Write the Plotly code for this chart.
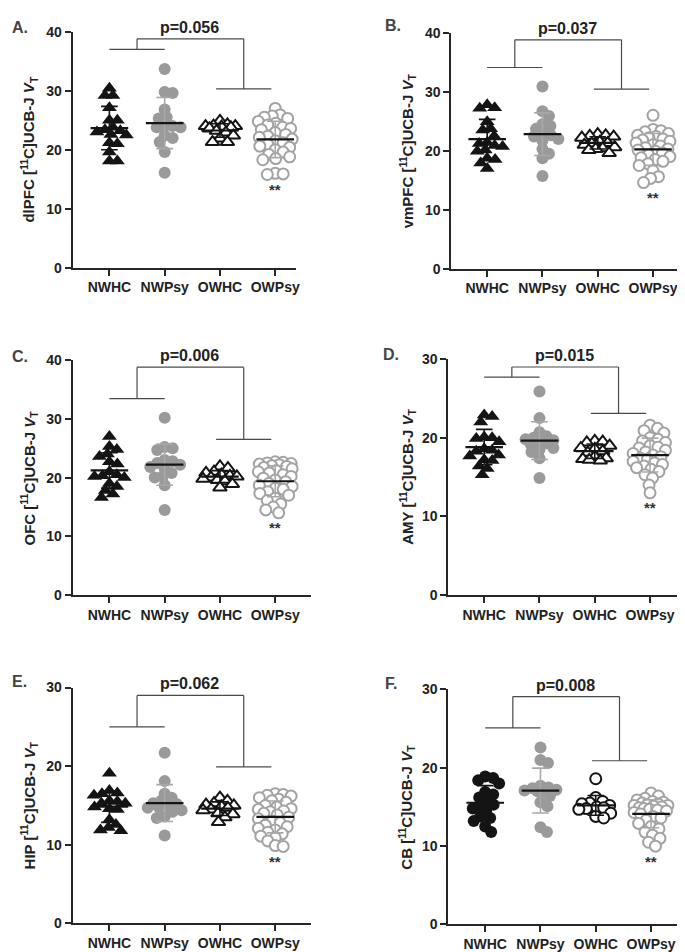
import numpy as np
import plotly.graph_objects as go

W, H = 685, 952
groups = ["NWHC", "NWPsy", "OWHC", "OWPsy"]

# ---------------- data (V_T values) ----------------
dlPFC_NWHC = [30.4, 29.2, 29.2, 27.1, 25.0, 25.0, 23.8, 23.4, 23.2, 23.0, 22.6, 22.5, 21.2, 21.0, 19.6, 18.1, 18.1]
dlPFC_NWPsy = [33.7, 29.8, 29.6, 26.8, 25.5, 25.3, 24.1, 24.0, 23.8, 23.8, 22.4, 22.0, 21.3, 19.6, 16.1]
dlPFC_OWHC = [24.9, 24.3, 24.1, 24.0, 24.0, 23.9, 23.8, 23.6, 23.2, 22.9, 22.4, 21.9, 21.3, 21.3]
dlPFC_OWPsy = [27.0, 25.9, 25.7, 25.5, 25.3, 24.8, 24.5, 24.2, 23.8, 23.6, 23.4, 22.9, 22.6, 22.3, 22.1,
               21.8, 21.5, 21.2, 20.9, 20.6, 20.4, 20.0, 19.6, 19.2, 18.8, 18.5, 18.3, 16.0, 15.9, 15.8]

vmPFC_NWHC = [27.8, 27.3, 27.2, 24.9, 23.7, 23.5, 22.5, 21.4, 21.2, 20.9, 20.7, 20.1, 19.9, 18.7, 18.5, 17.9, 17.0]
vmPFC_NWPsy = [30.9, 26.7, 25.9, 24.5, 24.2, 23.7, 23.1, 22.6, 22.4, 22.0, 21.7, 20.3, 19.5, 18.7, 15.7]
vmPFC_OWHC = [22.8, 22.6, 22.5, 22.4, 22.2, 21.5, 21.3, 21.2, 21.0, 20.6, 20.4, 20.3, 20.1, 19.6]
vmPFC_OWPsy = [26.0, 23.6, 23.4, 23.2, 22.9, 22.6, 22.4, 22.2, 22.0, 21.8, 21.6, 21.3, 21.0, 20.8, 20.5,
               20.3, 20.1, 19.9, 19.6, 19.3, 19.0, 18.8, 18.5, 18.2, 17.8, 17.5, 16.6, 15.6, 15.3, 14.6]

OFC_NWHC = [27.0, 25.3, 24.8, 24.0, 23.6, 22.7, 22.3, 21.0, 20.5, 20.3, 20.2, 20.0, 19.0, 18.5, 17.8, 17.2, 16.6]
OFC_NWPsy = [30.2, 25.2, 25.0, 24.7, 23.0, 22.8, 22.5, 22.2, 21.8, 21.5, 20.8, 20.2, 20.0, 18.7, 14.5]
OFC_OWHC = [21.9, 21.6, 21.0, 20.8, 20.5, 20.3, 20.2, 20.0, 19.8, 19.6, 19.4, 18.9, 18.3]
OFC_OWPsy = [22.7, 22.6, 22.5, 22.4, 22.3, 22.2, 22.0, 21.9, 21.7, 21.5, 21.2, 21.0, 20.8, 20.5, 20.2, 19.9,
             19.6, 19.3, 19.0, 18.7, 18.5, 18.2, 18.0, 17.6, 17.3, 17.0, 16.5, 16.1, 15.5, 15.0, 14.5, 14.0]

AMY_NWHC = [22.9, 22.7, 22.0, 20.1, 20.0, 19.9, 19.5, 18.6, 18.4, 18.3, 17.8, 17.7, 17.2, 17.1, 16.4, 16.1, 15.3]
AMY_NWPsy = [25.9, 22.5, 20.7, 20.2, 20.0, 19.8, 19.7, 19.6, 19.3, 19.2, 18.7, 18.5, 18.2, 17.4, 14.9]
AMY_OWHC = [19.6, 19.5, 19.4, 19.0, 18.7, 18.6, 18.3, 18.1, 17.6, 17.4, 17.3, 17.2, 17.1]
AMY_OWPsy = [21.6, 21.2, 20.9, 20.6, 20.0, 19.8, 19.6, 19.4, 19.0, 18.8, 18.7, 18.4, 18.2, 18.0, 17.8,
             17.6, 17.4, 17.3, 17.0, 16.8, 16.6, 16.4, 16.2, 16.0, 15.7, 15.3, 14.9, 14.0, 13.0]

HIP_NWHC = [19.1, 16.9, 16.6, 16.5, 16.3, 15.6, 15.5, 15.3, 15.3, 14.8, 14.6, 14.5, 13.2, 12.6, 12.2, 11.9, 11.8]
HIP_NWPsy = [21.7, 18.1, 16.5, 16.0, 15.6, 15.3, 15.2, 15.0, 14.8, 14.7, 14.4, 14.2, 13.6, 13.4, 11.2]
HIP_OWHC = [16.0, 15.6, 15.3, 15.1, 15.0, 14.9, 14.7, 14.5, 14.4, 14.0, 13.9, 13.5, 12.9]
HIP_OWPsy = [16.5, 16.4, 16.3, 16.2, 16.0, 15.8, 15.6, 15.4, 15.0, 14.8, 14.6, 14.5, 14.3, 14.2, 14.0, 13.8,
             13.5, 13.3, 13.0, 12.8, 12.5, 12.3, 12.1, 11.9, 11.6, 11.4, 11.1, 10.9, 10.5, 9.9, 9.8]

CB_NWHC = [18.9, 18.7, 18.4, 18.0, 16.9, 16.6, 16.2, 15.8, 15.3, 15.2, 14.8, 14.5, 13.8, 13.6, 13.2, 12.5, 11.8]
CB_NWPsy = [22.6, 21.0, 20.6, 17.7, 17.5, 17.4, 17.2, 17.1, 17.0, 17.0, 16.4, 15.6, 15.1, 12.4, 11.8]
CB_OWHC = [18.6, 16.2, 15.7, 15.5, 15.4, 15.2, 15.0, 14.9, 14.8, 14.7, 14.2, 13.8, 13.6]
CB_OWPsy = [16.8, 16.4, 16.1, 15.9, 15.7, 15.6, 15.5, 15.4, 15.3, 15.2, 15.2, 15.1, 15.0, 14.9, 14.8, 14.7,
            14.6, 14.5, 14.3, 14.1, 13.8, 13.6, 13.3, 12.9, 12.5, 12.2, 11.8, 11.4, 11.0, 10.5, 10.0]

p_values = ["p=0.056", "p=0.037", "p=0.006", "p=0.015", "p=0.062", "p=0.008"]
panel_letters = ["A.", "B.", "C.", "D.", "E.", "F."]
regions = ["dlPFC", "vmPFC", "OFC", "AMY", "HIP", "CB"]
# bracket heights (left pair, right pair, connector) in V_T units
bracket_left = [37.0, 34.1, 33.45, 27.7, 25.0, 25.1]
bracket_right = [30.3, 30.45, 26.5, 23.1, 19.9, 20.9]
bracket_top = [38.8, 38.8, 38.8, 29.0, 29.0, 29.1]
y_max = [40, 40, 40, 30, 30, 30]

panel_data = [
    [dlPFC_NWHC, dlPFC_NWPsy, dlPFC_OWHC, dlPFC_OWPsy],
    [vmPFC_NWHC, vmPFC_NWPsy, vmPFC_OWHC, vmPFC_OWPsy],
    [OFC_NWHC, OFC_NWPsy, OFC_OWHC, OFC_OWPsy],
    [AMY_NWHC, AMY_NWPsy, AMY_OWHC, AMY_OWPsy],
    [HIP_NWHC, HIP_NWPsy, HIP_OWHC, HIP_OWPsy],
    [CB_NWHC, CB_NWPsy, CB_OWHC, CB_OWPsy],
]

# ---------------- layout geometry (pixels) ----------------
# plot box: x0, x1, y_top, y_bottom, category-0 pixel
boxes = [
    (65, 290, 16, 256, 102),
    (446, 685, 17, 257, 482),
    (65, 305, 350, 589, 102),
    (443, 685, 349, 589, 479),
    (65, 305, 683, 923, 102),
    (443, 685, 685, 924, 480),
]
PX_CAT = 55.6
ytitle_x = [21, 402, 21, 401, 21, 401]
letter_pos = [(2, 12), (377, 10), (2, 346), (375, 344), (2, 677), (377, 679)]

BLACK = "#141414"
GRAY = "#9a9a9a"
AXC = "#262626"
FONT = "Liberation Sans, Arial, sans-serif"


def swarm(vals, ppx, ppy, dist, cap):
    """simple beeswarm: nearest-to-centre free slot, capped half-width (px)"""
    vals = np.asarray(vals, dtype=float)
    order = np.argsort(-vals, kind="stable")
    placed = []
    offs = np.zeros(len(vals))
    cands = [0.0]
    k = 1
    while k * 0.5 <= cap:
        cands += [k * 0.5, -k * 0.5]
        k += 1
    for idx in order:
        ypx = vals[idx] * ppy
        best, best_d = 0.0, -1.0
        for c in cands:
            if placed:
                dmin = min(np.hypot(c - px, ypx - py) for px, py in placed)
            else:
                dmin = 1e9
            if dmin >= dist:
                best = c
                break
            if dmin > best_d:
                best, best_d = c, dmin
        placed.append((best, ypx))
        offs[idx] = best / ppx
    return offs


fig = go.Figure()
annotations = []
shapes = []

for i in range(6):
    n = i + 1
    xa = "x" if n == 1 else f"x{n}"
    ya = "y" if n == 1 else f"y{n}"
    x0, x1, yt, yb, c0 = boxes[i]
    ymax = y_max[i]
    ppy = (yb - yt) / ymax
    xr = [(x0 - c0) / PX_CAT, (x1 - c0) / PX_CAT]

    fig.layout[f"xaxis{'' if n == 1 else n}"] = dict(
        domain=[x0 / W, x1 / W], range=xr, anchor=ya,
        tickvals=[0, 1, 2, 3], ticktext=[f"<b>{g}</b>" for g in groups],
        showline=True, linecolor=AXC, linewidth=2, ticks="outside", ticklen=6,
        tickwidth=2, tickcolor=AXC, showgrid=False, zeroline=False,
        tickfont=dict(family=FONT, size=14, color="#222"),
        fixedrange=True)
    yt_vals = list(range(0, ymax + 1, 10))
    fig.layout[f"yaxis{'' if n == 1 else n}"] = dict(
        domain=[1 - yb / H, 1 - yt / H], range=[0, ymax], anchor=xa,
        tickvals=yt_vals, ticktext=[f"<b>{v}</b>" for v in yt_vals],
        showline=True, linecolor=AXC, linewidth=2, ticks="outside", ticklen=6,
        tickwidth=2, tickcolor=AXC, showgrid=False, zeroline=False,
        tickfont=dict(family=FONT, size=14, color="#222"),
        fixedrange=True)

    cb = (i == 5)
    styles = [
        dict(symbol="circle" if cb else "triangle-up", size=12 if cb else 13, color=BLACK,
             line=dict(width=0, color=BLACK)),
        dict(symbol="circle", size=12, color=GRAY, line=dict(width=0, color=GRAY)),
        dict(symbol="circle" if cb else "triangle-up", size=11 if cb else 12, color="white",
             line=dict(width=2, color=BLACK)),
        dict(symbol="circle", size=11, color="white", line=dict(width=2, color="#a3a3a3")),
    ]
    err_col = [BLACK, "#a8a8a8", BLACK, "#a8a8a8"]

    for g in range(4):
        vals = np.asarray(panel_data[i][g], dtype=float)
        offs = swarm(vals, PX_CAT, ppy, 8.0, 17.0)
        fig.add_trace(go.Scatter(
            x=g + offs, y=vals, mode="markers", xaxis=xa, yaxis=ya,
            marker=styles[g], showlegend=False, cliponaxis=False, hoverinfo="y"))
    for g in range(4):
        vals = np.asarray(panel_data[i][g], dtype=float)
        m = vals.mean()
        s = vals.std(ddof=1)
        fig.add_trace(go.Scatter(
            x=[g, g, None, g - 0.15, g + 0.15, None, g - 0.15, g + 0.15],
            y=[m - s, m + s, None, m + s, m + s, None, m - s, m - s],
            mode="lines", xaxis=xa, yaxis=ya, line=dict(color=err_col[g], width=1.6),
            showlegend=False, hoverinfo="skip"))
        fig.add_trace(go.Scatter(
            x=[g - 0.34, g + 0.34], y=[m, m], mode="lines", xaxis=xa, yaxis=ya,
            line=dict(color=BLACK, width=2.2), showlegend=False, hoverinfo="skip"))

    # brackets
    bl, br, bt = bracket_left[i], bracket_right[i], bracket_top[i]
    lc = 0.5
    rc = 2.43
    bcol = "#4a4a4a"
    segs = [
        (0.0, bl, 1.0, bl), (lc, bl, lc, bt),
        (1.93, br, 2.93, br), (rc, br, rc, bt),
        (lc, bt, rc, bt),
    ]
    for (ax0, ay0, ax1, ay1) in segs:
        shapes.append(dict(type="line", xref=xa, yref=ya, x0=ax0, y0=ay0, x1=ax1, y1=ay1,
                           line=dict(color=bcol, width=1.2)))
    annotations.append(dict(
        x=(lc + rc) / 2 - 0.02, y=bt, xref=xa, yref=ya, text=f"<b>{p_values[i]}</b>",
        showarrow=False, yanchor="bottom", yshift=1,
        font=dict(family=FONT, size=16, color="#222")))
    # ** under OWPsy
    annotations.append(dict(
        x=3, y=min(panel_data[i][3]), xref=xa, yref=ya, text="<b>**</b>",
        showarrow=False, yanchor="middle", yshift=-15,
        font=dict(family=FONT, size=15, color="#333")))
    # y-axis title
    annotations.append(dict(
        x=ytitle_x[i] / W, y=1 - (yt + yb) / 2 / H, xref="paper", yref="paper",
        text=f"<b>{regions[i]} [<sup>11</sup>C]UCB-J <i>V</i><sub>T</sub></b>",
        textangle=-90, showarrow=False, xanchor="center", yanchor="middle",
        font=dict(family=FONT, size=15, color="#222")))
    # panel letter
    lx, ly = letter_pos[i]
    annotations.append(dict(
        x=lx / W, y=1 - ly / H, xref="paper", yref="paper", text=f"<b>{panel_letters[i]}</b>",
        showarrow=False, xanchor="left", yanchor="middle",
        font=dict(family=FONT, size=16, color="#444")))

fig.update_layout(
    width=W, height=H, margin=dict(l=0, r=0, t=0, b=0),
    font=dict(family=FONT, size=14, color="#222"),
    paper_bgcolor="white", plot_bgcolor="white",
    annotations=annotations, shapes=shapes, showlegend=False)

fig.write_html("out.html", config={"displayModeBar": False})
